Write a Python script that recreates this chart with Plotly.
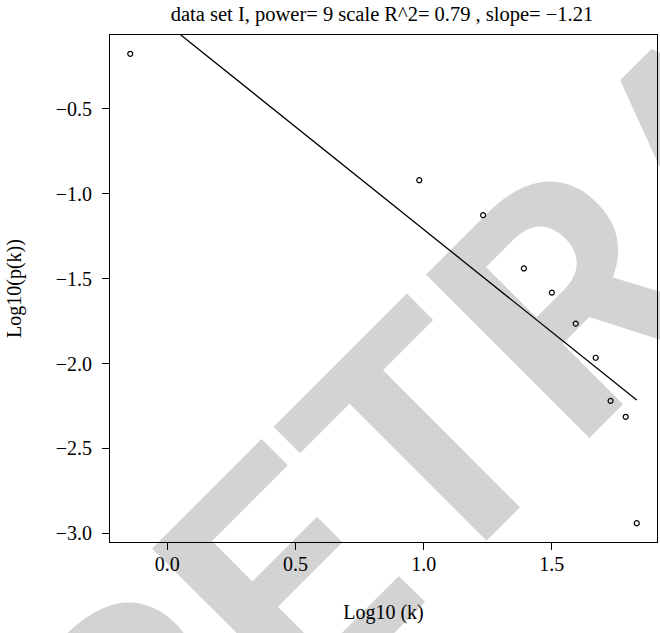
import plotly.graph_objects as go

# ---- data ----
log_k = [-0.144, 0.983, 1.232, 1.391, 1.500, 1.593, 1.671, 1.729, 1.788, 1.831]
log_pk = [-0.175, -0.920, -1.126, -1.440, -1.582, -1.765, -1.966, -2.220, -2.314, -2.941]
fit_slope = -1.21
fit_intercept = 0.0
x_tick_vals = [0.0, 0.5, 1.0, 1.5]
y_tick_vals = [-3.0, -2.5, -2.0, -1.5, -1.0, -0.5]
title_text = "data set I, power= 9 scale R^2= 0.79 , slope= \u22121.21"
x_title = "Log10 (k)"
y_title = "Log10(p(k))"
watermark_text = "RETRACTED"


def r_range(vals, frac=0.04):
    lo, hi = min(vals), max(vals)
    pad = (hi - lo) * frac
    return [lo - pad, hi + pad]


fit_x = [min(log_k), max(log_k)]
fit_y = [fit_intercept + fit_slope * v for v in fit_x]

SERIF = "Liberation Serif"
W, H = 660, 633
ML, MR, MT, MB = 110, 3, 35, 91
PW, PH = W - ML - MR, H - MT - MB


def px_to_paper(px, py):
    return (px - ML) / PW, 1 - (py - MT) / PH


fig = go.Figure()

# fitted line
fig.add_trace(go.Scatter(
    x=fit_x, y=fit_y, mode="lines",
    line=dict(color="black", width=1.3),
    showlegend=False, hoverinfo="skip",
))

# points
fig.add_trace(go.Scatter(
    x=log_k, y=log_pk, mode="markers",
    marker=dict(symbol="circle-open", size=5, color="black", line=dict(width=1.2, color="black")),
    showlegend=False,
))

# watermark: label of an invisible shape drawn beneath the data
wx, wy = px_to_paper(703, 134)
fig.add_shape(
    type="rect", xref="paper", yref="paper",
    x0=wx - 0.01, x1=wx + 0.01, y0=wy - 0.01, y1=wy + 0.01,
    line=dict(width=0, color="rgba(0,0,0,0)"), fillcolor="rgba(0,0,0,0)",
    layer="below",
    label=dict(text=watermark_text, textangle=-45, textposition="middle center",
               font=dict(family="Roboto", size=325, color="#d3d3d3", weight="bold")),
)

fig.update_layout(
    width=W, height=H,
    margin=dict(l=ML, r=MR, t=MT, b=MB, pad=0),
    paper_bgcolor="white", plot_bgcolor="rgba(0,0,0,0)",
    font=dict(family=SERIF, color="black"),
    title=dict(text=title_text, x=382 / W, xanchor="center", y=1 - 14 / H, yanchor="middle",
               font=dict(family=SERIF, size=20.5, color="black")),
    xaxis=dict(
        range=r_range(log_k), tickvals=x_tick_vals, ticktext=[f"{v:.1f}" for v in x_tick_vals],
        showgrid=False, zeroline=False, showline=True, linecolor="black", linewidth=1,
        mirror=True, ticks="outside", ticklen=7, tickwidth=1, tickcolor="black",
        tickfont=dict(family=SERIF, size=20, color="black"), ticklabelstandoff=-3,
        title=dict(text=x_title, font=dict(family=SERIF, size=20, color="black"), standoff=30),
    ),
    yaxis=dict(
        range=r_range(log_pk), tickvals=y_tick_vals,
        ticktext=[f"{v:.1f}".replace("-", "\u2212") for v in y_tick_vals],
        showgrid=False, zeroline=False, showline=True, linecolor="black", linewidth=1,
        mirror=True, ticks="outside", ticklen=7, tickwidth=1, tickcolor="black",
        tickfont=dict(family=SERIF, size=20, color="black"), ticklabelstandoff=6,
        title=dict(text=y_title, font=dict(family=SERIF, size=20, color="black"), standoff=28),
    ),
)

fig.write_html("out.html", config={"displayModeBar": False},
               post_script="document.body.style.margin='0px';")
